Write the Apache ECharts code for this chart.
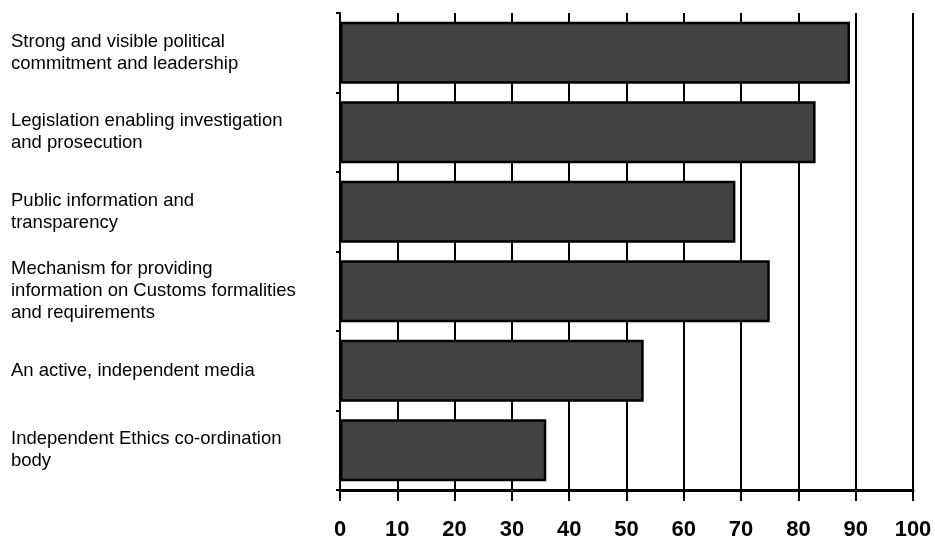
<!DOCTYPE html>
<html>
<head>
<meta charset="utf-8">
<script src="https://cdn.jsdelivr.net/npm/echarts@6/dist/echarts.min.js"></script>
<style>
html,body{margin:0;padding:0;background:#fff;}
#chart{width:935px;height:544px;}
</style>
</head>
<body>
<div id="chart"></div>
<script>
const categories = [
  "Strong and visible political\ncommitment and leadership",
  "Legislation enabling investigation\nand prosecution",
  "Public information and\ntransparency",
  "Mechanism for providing\ninformation on Customs formalities\nand requirements",
  "An active, independent media",
  "Independent Ethics co-ordination\nbody"
];
const values = [89, 83, 69, 75, 53, 36];
const xTicks = [0, 10, 20, 30, 40, 50, 60, 70, 80, 90, 100];

const chart = echarts.init(document.getElementById('chart'), null, {renderer: 'canvas'});
chart.setOption({
  animation: false,
  backgroundColor: '#ffffff',
  grid: {left: 340, right: 22, top: 13, bottom: 54, containLabel: false},
  xAxis: {
    type: 'value',
    min: xTicks[0],
    max: xTicks[xTicks.length - 1],
    interval: xTicks[1] - xTicks[0],
    axisLine: {show: true, lineStyle: {color: '#000', width: 3}},
    axisTick: {show: true, length: 11, lineStyle: {color: '#000', width: 2}},
    splitLine: {show: true, lineStyle: {color: '#000', width: 2}},
    axisLabel: {
      margin: 29,
      color: '#000',
      fontFamily: '"Liberation Sans", Arial, sans-serif',
      fontWeight: 'bold',
      fontSize: 22
    }
  },
  yAxis: {
    type: 'category',
    inverse: true,
    data: categories,
    axisLine: {show: true, lineStyle: {color: '#000', width: 2}},
    axisTick: {show: true, length: 4, lineStyle: {color: '#000', width: 2}},
    splitLine: {show: false},
    axisLabel: {
      align: 'left',
      margin: 329,
      color: '#000',
      fontFamily: '"Liberation Sans", Arial, sans-serif',
      fontSize: 18.5,
      lineHeight: 22,
      padding: [14, 0, 0, 0]
    }
  },
  series: [{
    type: 'bar',
    data: values,
    barCategoryGap: '22%',
    itemStyle: {color: '#424242', borderColor: '#000', borderWidth: 2.5}
  }]
});
</script>
</body>
</html>
